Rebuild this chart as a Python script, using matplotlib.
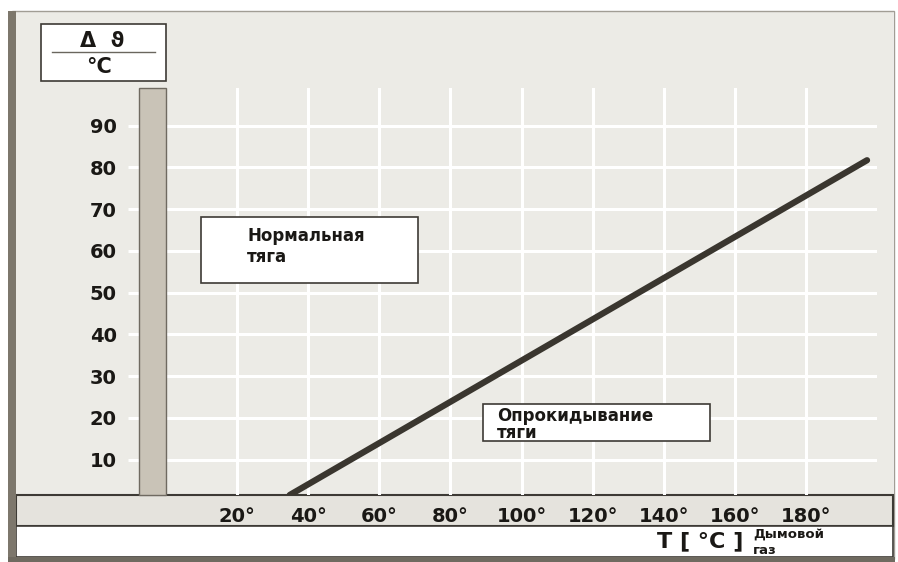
import matplotlib
matplotlib.use("Agg")
import matplotlib.pyplot as plt
from matplotlib.patches import Rectangle
from matplotlib.lines import Line2D

W, H = 898, 562

# Data
flue_temp = [34.8, 197.2]      # T flue gas, °C
delta_t = [1.5, 81.7]          # Δϑ, °C
x_ticks = [20, 40, 60, 80, 100, 120, 140, 160, 180]
x_labels = [f"{t}°" for t in x_ticks]
y_ticks = [10, 20, 30, 40, 50, 60, 70, 80, 90]
normal_label = "Нормальная\nтяга"
reverse_label = "Опрокидывание\nтяги"

BG = "#ecebe6"
BAND = "#e5e3dd"
EDGE = "#3d3a35"
INK = "#1a1815"

plt.rcParams["font.family"] = ["DejaVu Sans"]
plt.rcParams["font.weight"] = "bold"

fig = plt.figure(figsize=(W / 100, H / 100), dpi=100)


def fx(px):
    return px / W


def fy(py):
    return 1 - py / H


def fig_box(x0, y0, x1, y1, **kw):
    r = Rectangle((fx(x0), fy(y1)), (x1 - x0) / W, (y1 - y0) / H,
                  transform=fig.transFigure, **kw)
    fig.add_artist(r)
    return r


# frame and background pieces
fig_box(16, 12, 893, 495, fc=BG, ec="none", zorder=-2)
fig_box(12, 11, 894, 559, fc="none", ec="#a19d95", lw=1, zorder=-1)
fig_box(8, 11, 16, 562, fc="#7d776c", ec="none", zorder=2)
fig_box(8, 557, 895, 562, fc="#6f6a60", ec="none", zorder=2)
fig_box(16, 495, 893, 526, fc=BAND, ec=EDGE, lw=1.5, zorder=-1)
fig_box(16, 526, 893, 557, fc="white", ec=EDGE, lw=1.2, zorder=-1)

# main plot area
ax = fig.add_axes([fx(166), fy(495), (877 - 166) / W, (495 - 88) / H])
ax.set_facecolor("none")
ax.set_xlim(0, 200)
ax.set_ylim(1.5, 99)
for s in ax.spines.values():
    s.set_visible(False)

ax.set_xticks(x_ticks)
ax.set_xticklabels(x_labels)
ax.set_yticks(y_ticks)
ax.grid(True, color="white", lw=2.2)
ax.set_axisbelow(True)
ax.tick_params(axis="y", length=27.4, width=2.2, color="white", pad=8,
               labelsize=14, labelcolor=INK)
ax.tick_params(axis="x", length=0, pad=9, labelsize=14, labelcolor=INK)

ax.plot(flue_temp, delta_t, color="#3a362f", lw=4.5, solid_capstyle="round")

# region labels
ax.add_patch(Rectangle((9.85, 52.3), 61.05, 15.8, fc="white", ec=EDGE, lw=1.2))
ax.text(22.8, 65.6, normal_label, ha="left", va="top", fontsize=12,
        color=INK, linespacing=1.2)
ax.add_patch(Rectangle((89.2, 14.4), 63.8, 8.9, fc="white", ec=EDGE, lw=1.2))
ax.text(93.1, 22.7, reverse_label, ha="left", va="top", fontsize=12,
        color=INK, linespacing=0.95)

# grey bar left of the plot area
fig_box(139, 88, 166, 495, fc="#c9c3b7", ec="#6f6a61", lw=1, zorder=1)

# y axis unit box
fig_box(41, 24, 166, 81, fc="white", ec=EDGE, lw=1.2, zorder=1)
fig.text(fx(102), fy(41), "Δ  ϑ", ha="center", va="center", fontsize=15,
         color=INK, zorder=3)
fig.add_artist(Line2D([fx(52), fx(155)], [fy(52), fy(52)],
                      transform=fig.transFigure, color="#6a665e", lw=1, zorder=3))
fig.text(fx(99), fy(67), "°C", ha="center", va="center", fontsize=15,
         color=INK, zorder=3)

# x axis title
fig.text(fx(657), fy(541), "T [ °C ]", ha="left", va="center", fontsize=16,
         color=INK)
fig.text(fx(753), fy(534), "Дымовой", ha="left", va="center", fontsize=9.5,
         color=INK)
fig.text(fx(753), fy(550), "газ", ha="left", va="center", fontsize=9.5,
         color=INK)

fig.savefig("out.png", dpi=100)
